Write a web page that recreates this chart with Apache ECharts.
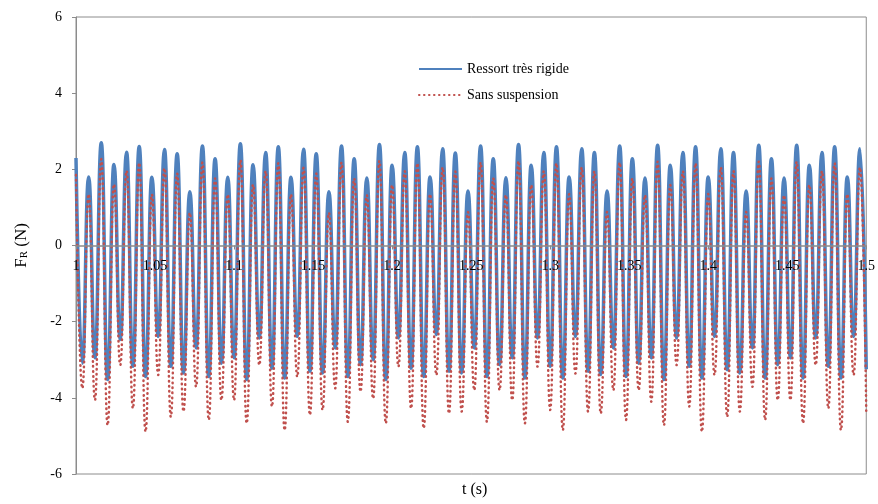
<!DOCTYPE html>
<html>
<head>
<meta charset="utf-8">
<script src="https://cdn.jsdelivr.net/npm/echarts@6/dist/echarts.min.js"></script>
<style>html,body{margin:0;padding:0;background:#fff}#c{width:878px;height:504px}</style>
</head>
<body>
<div id="c"></div>
<script>
// Times of the maxima and minima (s)
var tPeaks = [1, 1.008, 1.016, 1.024, 1.032, 1.04, 1.048, 1.056, 1.064, 1.072, 1.08, 1.088, 1.096, 1.104, 1.112, 1.12, 1.128, 1.136, 1.144, 1.152, 1.16, 1.168, 1.176, 1.184, 1.192, 1.2, 1.208, 1.216, 1.224, 1.232, 1.24, 1.248, 1.256, 1.264, 1.272, 1.28, 1.288, 1.296, 1.304, 1.312, 1.32, 1.328, 1.336, 1.344, 1.352, 1.36, 1.368, 1.376, 1.384, 1.392, 1.4, 1.408, 1.416, 1.424, 1.432, 1.44, 1.448, 1.456, 1.464, 1.472, 1.48, 1.488, 1.496];
var tTroughs = [1.004, 1.012, 1.02, 1.028, 1.036, 1.044, 1.052, 1.06, 1.068, 1.076, 1.084, 1.092, 1.1, 1.108, 1.116, 1.124, 1.132, 1.14, 1.148, 1.156, 1.164, 1.172, 1.18, 1.188, 1.196, 1.204, 1.212, 1.22, 1.228, 1.236, 1.244, 1.252, 1.26, 1.268, 1.276, 1.284, 1.292, 1.3, 1.308, 1.316, 1.324, 1.332, 1.34, 1.348, 1.356, 1.364, 1.372, 1.38, 1.388, 1.396, 1.404, 1.412, 1.42, 1.428, 1.436, 1.444, 1.452, 1.46, 1.468, 1.476, 1.484, 1.492, 1.5];

// "Ressort très rigide" (N)
var rigidPeaks = [2.30, 1.80, 2.70, 2.13, 2.45, 2.60, 1.79, 2.52, 2.41, 1.41, 2.61, 2.28, 1.79, 2.67, 2.12, 2.44, 2.59, 1.79, 2.53, 2.41, 1.41, 2.61, 2.28, 1.77, 2.65, 2.11, 2.44, 2.59, 1.80, 2.54, 2.43, 1.43, 2.61, 2.28, 1.78, 2.65, 2.11, 2.44, 2.59, 1.80, 2.54, 2.44, 1.43, 2.61, 2.28, 1.77, 2.63, 2.11, 2.44, 2.59, 1.80, 2.54, 2.44, 1.43, 2.63, 2.28, 1.77, 2.63, 2.11, 2.44, 2.59, 1.80, 2.54];
var rigidTroughs = [-3.09, -2.95, -3.52, -2.47, -3.17, -3.44, -2.39, -3.17, -3.35, -2.69, -3.44, -3.09, -2.95, -3.52,
  -2.43, -3.22, -3.48, -2.39, -3.30, -3.35, -2.69, -3.44, -3.13, -3.00, -3.52, -2.43, -3.22, -3.44, -2.34,
  -3.30, -3.35, -2.69, -3.44, -3.13, -2.95, -3.48, -2.43, -3.17, -3.48, -2.39, -3.30, -3.39, -2.69, -3.44,
  -3.09, -2.95, -3.52, -2.43, -3.17, -3.48, -2.39, -3.26, -3.35, -2.69, -3.48, -3.13, -2.95, -3.48, -2.43, -3.17, -3.48, -2.39, -3.25];

// "Sans suspension" (N)
var freePeaks = [1.85, 1.35, 2.27, 1.61, 1.96, 2.17, 1.34, 2.03, 1.89, 0.86, 2.18, 1.76, 1.34, 2.24, 1.60, 1.95, 2.16, 1.34, 2.04, 1.89, 0.86, 2.18, 1.76, 1.32, 2.22, 1.59, 1.95, 2.16, 1.35, 2.05, 1.94, 0.88, 2.18, 1.76, 1.33, 2.22, 1.59, 1.95, 2.16, 1.35, 2.05, 1.95, 0.88, 2.18, 1.76, 1.32, 2.20, 1.59, 1.95, 2.16, 1.35, 2.05, 1.95, 0.88, 2.20, 1.76, 1.32, 2.20, 1.59, 1.95, 2.16, 1.35, 2.05];
var freeTroughs = [-3.75, -4.06, -4.72, -3.14, -4.28, -4.89, -3.40, -4.50, -4.36, -3.71, -4.58, -4.06, -4.06, -4.67,
  -3.14, -4.23, -4.85, -3.45, -4.45, -4.32, -3.75, -4.63, -3.84, -4.02, -4.67, -3.18, -4.28, -4.80, -3.40,
  -4.41, -4.36, -3.80, -4.63, -3.80, -4.06, -4.67, -3.18, -4.32, -4.85, -3.36, -4.36, -4.41, -3.80, -4.58,
  -3.80, -4.10, -4.72, -3.14, -4.23, -4.89, -3.40, -4.50, -4.36, -3.71, -4.58, -4.06, -4.06, -4.67, -3.14, -4.28, -4.85, -3.40, -4.36];

var seriesNames = ['Ressort très rigide', 'Sans suspension'];
var yTicks = [-6, -4, -2, 0, 2, 4, 6];

function build(peaks, troughs) {
  var out = [];
  for (var i = 0; i < tPeaks.length; i++) {
    out.push([tPeaks[i], peaks[i]]);
    out.push([tTroughs[i], troughs[i]]);
  }
  return out;
}

var W = 878, H = 504;
var gridTop = 17, gridBottom = 30;
var plotH = H - gridTop - gridBottom;
// distance from the bottom of the plot up to the y = 0 line
var zeroOffset = plotH * (0 - yTicks[0]) / (yTicks[yTicks.length - 1] - yTicks[0]);

var serif = '"Liberation Serif", "DejaVu Serif", serif';
var chart = echarts.init(document.getElementById('c'));
chart.setOption({
  animation: false,
  backgroundColor: '#fff',
  title: {
    text: 't (s)', left: 462, top: 482, padding: 0,
    textStyle: { fontFamily: serif, fontSize: 16, fontWeight: 'normal', color: '#000' }
  },
  grid: { left: 76, right: 9, top: gridTop, bottom: gridBottom, show: true, borderColor: '#8c8c8c', borderWidth: 1, backgroundColor: 'transparent' },
  legend: {
    orient: 'vertical', left: 413, top: 57, itemWidth: 43, itemHeight: 14, itemGap: 12,
    itemStyle: { opacity: 0 },
    textStyle: { fontFamily: serif, fontSize: 14, color: '#000' },
    data: seriesNames
  },
  xAxis: {
    type: 'value', min: 1, max: 1.5, interval: 0.05, position: 'bottom', offset: -zeroOffset, z: 5,
    axisLine: { onZero: false, lineStyle: { color: '#8c8c8c', width: 1.5 } },
    axisTick: { show: true, length: 4, lineStyle: { color: '#8c8c8c' } },
    splitLine: { show: false },
    axisLabel: { margin: 14, fontFamily: serif, fontSize: 14, color: '#000', showMinLabel: true, showMaxLabel: true,
      formatter: function (v) { return String(+v.toFixed(2)); } }
  },
  yAxis: {
    type: 'value', min: yTicks[0], max: yTicks[yTicks.length - 1], interval: 2,
    axisLine: { show: true, lineStyle: { color: '#8c8c8c' } },
    axisTick: { show: true, length: 4, lineStyle: { color: '#8c8c8c' } },
    splitLine: { show: false },
    axisLabel: { margin: 14, fontFamily: serif, fontSize: 14, color: '#000' },
    name: '{a|F}{b|R}{a| (N)}', nameLocation: 'middle', nameGap: 46, nameRotate: 90,
    nameTextStyle: {
      rich: {
        a: { fontFamily: serif, fontSize: 17, color: '#000' },
        b: { fontFamily: serif, fontSize: 11, color: '#000', verticalAlign: 'bottom', padding: [6, 0, 0, 0] }
      }
    }
  },
  series: [{
    name: seriesNames[0], type: 'line', data: build(rigidPeaks, rigidTroughs),
    smooth: 0.5, smoothMonotone: 'x', symbol: 'none', clip: true,
    lineStyle: { color: '#4F81BD', width: 3.5 }, itemStyle: { color: '#4F81BD' }
  }, {
    name: seriesNames[1], type: 'line', data: build(freePeaks, freeTroughs),
    smooth: 0.5, smoothMonotone: 'x', symbol: 'none', clip: true,
    lineStyle: { color: '#C0504D', width: 2.5, type: [0.5, 4.5], cap: 'round' }, itemStyle: { color: '#C0504D' }
  }]
});
</script>
</body>
</html>
